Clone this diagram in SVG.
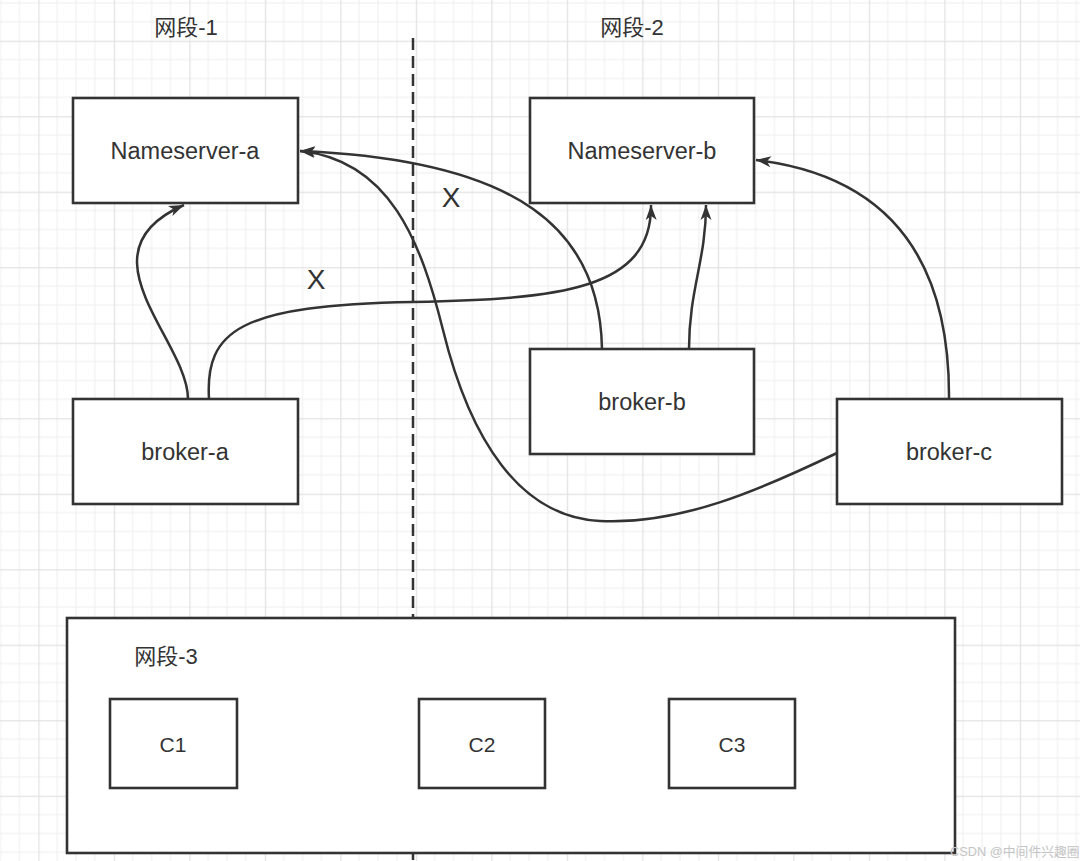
<svg xmlns="http://www.w3.org/2000/svg" width="1080" height="861" viewBox="0 0 1080 861">
<style>
.box{fill:#ffffff;stroke:#333333;stroke-width:2.6}
.lbl{font-family:"Liberation Sans","Noto Sans CJK SC",sans-serif;fill:#333333;text-anchor:middle}
.node{font-size:23.5px}
.cn{font-size:22px}
.c{font-size:21px}
.x{font-size:28px}
.edge{fill:none;stroke:#333333;stroke-width:2.5}
</style>
<defs>
<pattern id="grid" patternUnits="userSpaceOnUse" x="38.3" y="40.7" width="75.5" height="75.5">
<rect x="0" y="0" width="75.5" height="75.5" fill="#ffffff"/>
<g fill="#efefef">
<rect x="18.4" y="0" width="1" height="75.5"/>
<rect x="37.3" y="0" width="1" height="75.5"/>
<rect x="56.1" y="0" width="1" height="75.5"/>
<rect x="0" y="18.4" width="75.5" height="1"/>
<rect x="0" y="37.3" width="75.5" height="1"/>
<rect x="0" y="56.1" width="75.5" height="1"/>
</g>
<g fill="#e2e2e2">
<rect x="0" y="0" width="1.2" height="75.5"/>
<rect x="0" y="0" width="75.5" height="1.2"/>
</g>
</pattern>
<marker id="arr" markerUnits="userSpaceOnUse" markerWidth="16" markerHeight="12" refX="15" refY="6" orient="auto" viewBox="0 0 16 12">
<path d="M0,0.5 L15,6 L0,11.5 L4,6 Z" fill="#333333"/>
</marker>
</defs>
<rect x="0" y="0" width="1080" height="861" fill="url(#grid)"/>
<g id="divider">
<line x1="413" y1="38" x2="413" y2="861" stroke="#333333" stroke-width="2.5" stroke-dasharray="12 6"/>
</g>
<g id="label-seg1"><text class="lbl cn" x="186" y="35">网段-1</text></g>
<g id="label-seg2"><text class="lbl cn" x="632" y="35">网段-2</text></g>
<g id="segment-3">
<rect class="box" x="67" y="618" width="888" height="235"/>
<text class="lbl cn" x="166" y="664">网段-3</text>
</g>
<g id="c1"><rect class="box" x="110" y="699" width="127" height="89"/><text class="lbl c" x="173" y="752">C1</text></g>
<g id="c2"><rect class="box" x="419" y="699" width="126" height="89"/><text class="lbl c" x="482" y="752">C2</text></g>
<g id="c3"><rect class="box" x="669" y="699" width="126" height="89"/><text class="lbl c" x="732" y="752">C3</text></g>
<g id="nameserver-a"><rect class="box" x="73" y="98" width="225" height="105"/><text class="lbl node" x="185" y="159">Nameserver-a</text></g>
<g id="nameserver-b"><rect class="box" x="530" y="98" width="224" height="105"/><text class="lbl node" x="642" y="159">Nameserver-b</text></g>
<g id="broker-a"><rect class="box" x="73" y="399" width="225" height="105"/><text class="lbl node" x="185" y="460">broker-a</text></g>
<g id="broker-b"><rect class="box" x="530" y="349" width="224" height="105"/><text class="lbl node" x="642" y="410">broker-b</text></g>
<g id="broker-c"><rect class="box" x="837" y="399" width="225" height="105"/><text class="lbl node" x="949" y="460">broker-c</text></g>
<g id="connectors">
<path class="edge" marker-end="url(#arr)" d="M188,399 C188,340 76,252 184,205"/>
<path class="edge" marker-end="url(#arr)" d="M209,399 C205,330 240,305 413,302 C560,299 652,290 651,205"/>
<path class="edge" marker-end="url(#arr)" d="M602,349 C600,230 520,160 300,151"/>
<path class="edge" marker-end="url(#arr)" d="M837,453 C760,490 680,525 600,521 C520,517 470,440 443,330 C421,242 390,160 300,151"/>
<path class="edge" marker-end="url(#arr)" d="M689,349 C689,290 706,260 706,205"/>
<path class="edge" marker-end="url(#arr)" d="M949,399 C950,250 880,175 756,160"/>
</g>
<g id="x-labels">
<text class="lbl x" x="451" y="207">X</text>
<text class="lbl x" x="316" y="289">X</text>
</g>
<g id="watermark"><text x="950" y="856" font-family="Liberation Sans,'Noto Sans CJK SC',sans-serif" font-size="12.8" fill="#c4c4c4">CSDN @中间件兴趣圈</text></g>
</svg>
